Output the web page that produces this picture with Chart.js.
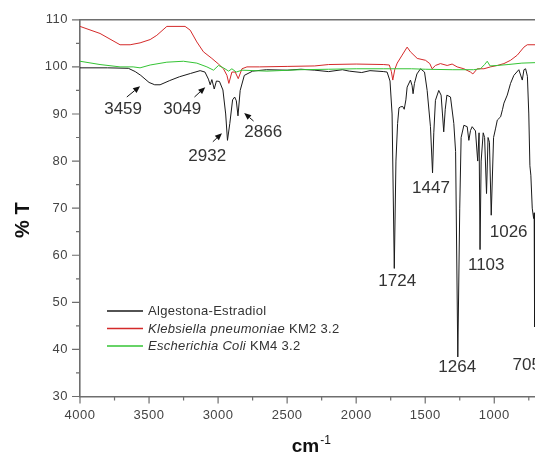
<!DOCTYPE html>
<html><head><meta charset="utf-8">
<script src="https://cdn.jsdelivr.net/npm/chart.js@4.4.1/dist/chart.umd.min.js"></script>
<style>html,body{margin:0;padding:0;background:#fff;}canvas{display:block;}</style>
</head><body>
<canvas id="c" width="535" height="454"></canvas>
<script>
// ---- Data (wavenumber cm-1, %T) ----
const xBlack = [4000,3800,3650,3600,3560,3500,3459,3420,3350,3280,3200,3130,3095,3070,3057,3045,3028,3012,2990,2965,2945,2932,2915,2895,2880,2868,2856,2840,2810,2750,2650,2500,2400,2300,2200,2100,2050,1960,1900,1800,1776,1755,1740,1724,1712,1700,1690,1680,1663,1652,1640,1631,1607,1595,1588,1578,1560,1534,1505,1486,1462,1447,1438,1426,1402,1385,1375,1366,1355,1343,1317,1293,1280,1264,1250,1240,1220,1196,1184,1172,1160,1136,1120,1110,1103,1095,1080,1070,1056,1045,1035,1022,1005,990,978,954,940,930,906,882,858,822,797,785,773,760,750,742,735,725,715,711,708,705];
const yBlack = [99.8,99.8,99.7,99.0,98.2,96.7,96.2,96.2,97.1,97.9,98.6,99.2,98.9,97.4,96.2,97.3,95.3,97.0,96.9,95.1,90.0,84.4,88.0,93.0,93.6,92.8,89.6,95.0,98.2,99.1,99.4,99.3,99.5,99.3,99.0,99.4,99.1,98.8,99.2,99.0,98.9,97.0,90.0,57.2,80.0,88.0,91.3,91.5,91.6,91.0,93.0,95.7,97.2,96.0,94.3,96.5,98.5,99.6,98.9,95.0,87.3,77.5,86.0,92.9,95.0,94.0,90.0,86.2,91.0,94.0,93.6,88.0,82.0,38.4,70.0,85.0,87.6,87.3,84.4,86.5,87.3,86.4,80.0,86.0,61.2,80.0,86.0,85.0,73.1,85.0,84.0,68.5,85.0,87.0,88.7,89.4,91.0,92.3,94.0,96.5,98.2,99.4,97.2,99.4,99.6,98.0,90.0,79.0,77.0,70.0,67.8,69.0,44.8,47.0];

const xKleb = [4000,3855,3710,3637,3565,3492,3444,3371,3239,3202,3154,3106,3045,2997,2961,2936,2922,2900,2876,2854,2827,2791,2700,2500,2300,2200,2000,1800,1760,1745,1735,1720,1703,1667,1631,1607,1558,1498,1467,1450,1426,1390,1341,1305,1269,1220,1172,1155,1123,1075,1027,978,930,882,833,785,761,705];
const yKleb = [108.6,107.1,104.7,104.7,105.1,105.8,106.7,108.6,108.6,107.8,105.3,103.2,101.8,100.6,99.6,98.2,96.5,98.9,98.9,97.5,99.6,100.0,100.0,100.1,100.2,100.5,100.6,100.5,100.4,99.0,97.2,99.5,100.8,102.5,104.2,103.2,101.8,101.4,100.7,99.6,100.3,100.7,100.3,100.6,100.0,99.6,98.9,98.5,99.6,99.6,100.0,100.3,100.7,101.4,102.5,104.2,104.7,104.7];

const xEcoli = [4000,3855,3710,3615,3565,3492,3371,3251,3154,3081,3033,2997,2961,2924,2900,2869,2827,2646,2400,2200,2000,1800,1600,1500,1300,1150,1100,1070,1051,1030,978,900,800,705];
const yEcoli = [101.2,100.5,100.0,100.0,99.8,100.4,101.0,101.2,100.8,100.0,99.3,100.3,99.8,99.1,99.6,98.9,99.3,99.1,99.4,99.5,99.6,99.6,99.6,99.5,99.4,99.4,99.6,100.5,101.2,100.2,100.3,100.5,100.8,100.9];

const seriesNames = ['Algestona-Estradiol','Klebsiella pneumoniae','Escherichia Coli'];
const seriesSuffix = ['',' KM2 3.2',' KM4 3.2'];

const xTickValues = [4000,3500,3000,2500,2000,1500,1000];
const xMinorValues = [3750,3250,2750,2250,1750,1250,750];
const yTickValues = [30,40,50,60,70,80,90,100,110];
const yMinorValues = [35,45,55,65,75,85,95,105];

// peak labels (data coordinates of text centre)
const peakLabels = ['3459','3049','2932','2866','1724','1447','1264','1103','1026','705'];
const peakLabelX = [3688,3260,3079,2673,1703,1458,1268,1058,896,765];
const peakLabelY = [91.0,91.0,81.0,86.0,54.5,74.2,36.3,57.9,64.9,36.7];
// arrows (tail -> head), data coordinates
const arrowFromX = [3661,3171,3038,2743];
const arrowFromY = [93.6,93.6,84.1,88.5];
const arrowToX = [3565,3093,2972,2811];
const arrowToY = [95.9,95.7,85.9,90.2];

const colors = ['#1a1a1a','#d42a2a','#35c435'];
const axisColor = '#6e6e6e';
const FONT = 'Liberation Sans, Arial, sans-serif';

const toPts = (xs, ys) => xs.map((x, i) => ({x: x, y: ys[i]}));

const overlay = {
  id: 'overlay',
  beforeDraw(chart) { chart.ctx.letterSpacing = '0.5px'; },
  afterDraw(chart) {
    const c = chart.ctx, xs = chart.scales.x, ys = chart.scales.y, a = chart.chartArea;
    c.save();
    c.letterSpacing = '0px';
    c.strokeStyle = axisColor; c.lineWidth = 1.6;
    c.beginPath(); c.moveTo(a.left, a.top); c.lineTo(a.right + 2, a.top); c.stroke();
    c.lineWidth = 1.2;
    c.beginPath();
    xTickValues.forEach(v => { const p = xs.getPixelForValue(v); c.moveTo(p, a.bottom); c.lineTo(p, a.bottom + 7); });
    xMinorValues.forEach(v => { const p = xs.getPixelForValue(v); c.moveTo(p, a.bottom); c.lineTo(p, a.bottom + 4); });
    yTickValues.forEach(v => { const p = ys.getPixelForValue(v); c.moveTo(a.left, p); c.lineTo(a.left - 8, p); });
    yMinorValues.forEach(v => { const p = ys.getPixelForValue(v); c.moveTo(a.left, p); c.lineTo(a.left - 4, p); });
    c.stroke();

    // peak labels
    c.fillStyle = '#333'; c.font = '17px ' + FONT; c.textAlign = 'center'; c.textBaseline = 'middle';
    peakLabels.forEach((t, i) => c.fillText(t, xs.getPixelForValue(peakLabelX[i]), ys.getPixelForValue(peakLabelY[i])));

    // arrows
    c.strokeStyle = '#111'; c.fillStyle = '#111'; c.lineWidth = 1;
    arrowFromX.forEach((fx, i) => {
      const x1 = xs.getPixelForValue(fx), y1 = ys.getPixelForValue(arrowFromY[i]);
      const x2 = xs.getPixelForValue(arrowToX[i]), y2 = ys.getPixelForValue(arrowToY[i]);
      const ang = Math.atan2(y2 - y1, x2 - x1), L = 7, W = 3;
      const bx = x2 - L * Math.cos(ang), by = y2 - L * Math.sin(ang);
      c.beginPath(); c.moveTo(x1, y1); c.lineTo(bx, by); c.stroke();
      c.beginPath(); c.moveTo(x2, y2);
      c.lineTo(bx + W * Math.sin(ang), by - W * Math.cos(ang));
      c.lineTo(bx - W * Math.sin(ang), by + W * Math.cos(ang));
      c.closePath(); c.fill();
    });

    // legend
    const legX = 107, legY0 = 311, legDy = 17.5;
    c.textAlign = 'left'; c.textBaseline = 'middle'; c.letterSpacing = '0.3px';
    seriesNames.forEach((n, i) => {
      const y = legY0 + i * legDy;
      c.strokeStyle = colors[i]; c.lineWidth = 1.3;
      c.beginPath(); c.moveTo(legX, y); c.lineTo(legX + 36, y); c.stroke();
      c.fillStyle = '#333';
      let tx = legX + 41;
      c.font = (i === 0 ? '' : 'italic ') + '13px ' + FONT;
      c.fillText(n, tx, y + 0.5);
      tx += c.measureText(n).width;
      if (seriesSuffix[i]) { c.font = '13px ' + FONT; c.fillText(seriesSuffix[i], tx, y + 0.5); }
    });

    // axis titles
    c.letterSpacing = '0px';
    c.fillStyle = '#111';
    c.save();
    c.translate(23, (a.top + a.bottom) / 2 + 12);
    c.rotate(-Math.PI / 2);
    c.font = 'bold 20px ' + FONT; c.textAlign = 'center'; c.textBaseline = 'middle';
    c.fillText('% T', 0, 0);
    c.restore();
    c.font = 'bold 19px ' + FONT; c.textAlign = 'left'; c.textBaseline = 'alphabetic';
    const cmW = c.measureText('cm').width;
    const cx = (a.left + a.right) / 2 + 3;
    c.fillText('cm', cx - cmW / 2 - 5, 452);
    c.font = '12px ' + FONT;
    c.fillText('-1', cx + cmW / 2 - 4, 444);
    c.restore();
  }
};

new Chart(document.getElementById('c'), {
  type: 'line',
  data: {
    datasets: [
      {label: seriesNames[0], data: toPts(xBlack, yBlack), borderColor: colors[0], borderWidth: 1, pointRadius: 0, tension: 0, fill: false, order: 3},
      {label: seriesNames[1], data: toPts(xKleb, yKleb), borderColor: colors[1], borderWidth: 1, pointRadius: 0, tension: 0, fill: false, order: 2},
      {label: seriesNames[2], data: toPts(xEcoli, yEcoli), borderColor: colors[2], borderWidth: 1, pointRadius: 0, tension: 0, fill: false, order: 1}
    ]
  },
  options: {
    responsive: false, animation: false, devicePixelRatio: 1,
    layout: {padding: {top: 19.5, left: 0, right: 0, bottom: 0}},
    plugins: {legend: {display: false}, tooltip: {enabled: false}},
    scales: {
      x: {
        type: 'linear', reverse: true, min: 705, max: 4000,
        afterBuildTicks: s => { s.ticks = xTickValues.map(v => ({value: v})); },
        afterFit: s => { s.height = 57.5; },
        grid: {display: false, drawTicks: false},
        border: {display: true, color: axisColor, width: 1.6},
        ticks: {padding: 11, color: '#444', font: {family: FONT, size: 13}, autoSkip: false, maxRotation: 0, callback: v => String(v)}
      },
      y: {
        type: 'linear', min: 30, max: 110,
        afterBuildTicks: s => { s.ticks = yTickValues.map(v => ({value: v})); },
        afterFit: s => { s.width = 80; },
        grid: {display: false, drawTicks: false},
        border: {display: true, color: axisColor, width: 1.6},
        ticks: {padding: 12, color: '#444', font: {family: FONT, size: 13}, autoSkip: false, callback: v => String(v)}
      }
    }
  },
  plugins: [overlay]
});
</script>
</body></html>
